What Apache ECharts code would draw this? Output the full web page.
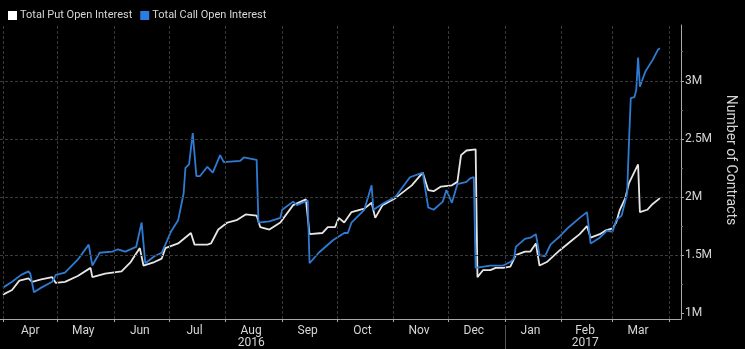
<!DOCTYPE html>
<html><head><meta charset="utf-8">
<script src="https://cdn.jsdelivr.net/npm/echarts@6/dist/echarts.min.js"></script>
<style>html,body{margin:0;padding:0;background:#000;}#c{width:745px;height:349px;}</style>
</head><body><div id="c"></div>
<script>
// ---- data (values in millions of contracts) ----
const putDates = ['2016-04-01','2016-04-06','2016-04-10','2016-04-15','2016-04-17','2016-04-22','2016-04-28','2016-04-30','2016-05-05','2016-05-12','2016-05-19','2016-05-20','2016-05-27','2016-06-05','2016-06-10','2016-06-15','2016-06-17','2016-06-23','2016-06-27','2016-06-29','2016-07-06','2016-07-13','2016-07-15','2016-07-22','2016-07-24','2016-07-28','2016-08-02','2016-08-07','2016-08-12','2016-08-18','2016-08-20','2016-08-25','2016-08-31','2016-09-07','2016-09-14','2016-09-16','2016-09-23','2016-09-26','2016-09-30','2016-10-02','2016-10-05','2016-10-09','2016-10-16','2016-10-20','2016-10-22','2016-10-26','2016-11-02','2016-11-11','2016-11-17','2016-11-20','2016-11-23','2016-11-27','2016-12-03','2016-12-06','2016-12-08','2016-12-11','2016-12-16','2016-12-17','2016-12-20','2016-12-24','2016-12-27','2016-12-31','2017-01-04','2017-01-07','2017-01-12','2017-01-15','2017-01-18','2017-01-20','2017-01-24','2017-01-31','2017-02-07','2017-02-11','2017-02-15','2017-02-17','2017-02-22','2017-02-25','2017-03-01','2017-03-03','2017-03-05','2017-03-08','2017-03-10','2017-03-15','2017-03-16','2017-03-20','2017-03-23','2017-03-27'];
const putValues = [1.16,1.20,1.28,1.30,1.27,1.29,1.31,1.26,1.27,1.32,1.39,1.31,1.34,1.36,1.44,1.56,1.41,1.44,1.47,1.56,1.60,1.69,1.59,1.59,1.60,1.72,1.78,1.80,1.85,1.84,1.74,1.72,1.78,1.93,1.98,1.68,1.69,1.74,1.74,1.82,1.78,1.87,1.90,1.95,1.82,1.93,1.99,2.10,2.21,2.06,2.05,2.09,2.10,2.13,2.36,2.40,2.41,1.31,1.37,1.37,1.39,1.39,1.40,1.50,1.53,1.53,1.60,1.41,1.44,1.54,1.63,1.68,1.75,1.65,1.68,1.71,1.73,1.78,1.89,1.99,2.12,2.28,1.87,1.89,1.94,1.99];
const callDates = ['2016-04-01','2016-04-06','2016-04-11','2016-04-15','2016-04-16','2016-04-18','2016-04-22','2016-04-28','2016-04-30','2016-05-05','2016-05-12','2016-05-18','2016-05-20','2016-05-24','2016-05-31','2016-06-03','2016-06-07','2016-06-13','2016-06-16','2016-06-18','2016-06-23','2016-06-27','2016-06-29','2016-07-02','2016-07-06','2016-07-09','2016-07-10','2016-07-12','2016-07-14','2016-07-16','2016-07-18','2016-07-22','2016-07-25','2016-07-29','2016-07-31','2016-08-09','2016-08-11','2016-08-18','2016-08-19','2016-08-25','2016-08-31','2016-09-01','2016-09-07','2016-09-09','2016-09-15','2016-09-16','2016-09-21','2016-09-29','2016-10-05','2016-10-07','2016-10-09','2016-10-16','2016-10-20','2016-10-21','2016-10-27','2016-11-02','2016-11-10','2016-11-17','2016-11-20','2016-11-23','2016-11-28','2016-11-30','2016-12-03','2016-12-06','2016-12-11','2016-12-13','2016-12-15','2016-12-16','2016-12-24','2016-12-31','2017-01-04','2017-01-06','2017-01-07','2017-01-12','2017-01-15','2017-01-18','2017-01-20','2017-01-23','2017-01-26','2017-01-31','2017-02-05','2017-02-11','2017-02-15','2017-02-17','2017-02-22','2017-02-26','2017-03-01','2017-03-03','2017-03-06','2017-03-09','2017-03-10','2017-03-11','2017-03-13','2017-03-14','2017-03-15','2017-03-16','2017-03-17','2017-03-19','2017-03-23','2017-03-26','2017-03-27'];
const callValues = [1.22,1.27,1.33,1.36,1.34,1.18,1.22,1.27,1.33,1.35,1.46,1.59,1.41,1.52,1.53,1.55,1.53,1.57,1.78,1.43,1.49,1.52,1.59,1.70,1.80,2.03,2.25,2.28,2.55,2.18,2.18,2.26,2.21,2.36,2.30,2.31,2.34,2.32,1.78,1.79,1.82,1.89,1.96,1.93,1.97,1.43,1.52,1.63,1.69,1.69,1.78,1.89,2.10,1.89,1.95,2.00,2.17,2.21,1.91,1.89,1.96,2.06,1.95,2.11,2.13,2.16,2.17,1.39,1.41,1.41,1.44,1.47,1.57,1.64,1.65,1.68,1.50,1.49,1.59,1.66,1.74,1.82,1.87,1.60,1.65,1.71,1.70,1.80,1.84,2.03,2.47,2.85,2.86,2.92,3.20,2.95,2.95,3.08,3.18,3.27,3.28];

const seriesNames = ['Total Put Open Interest','Total Call Open Interest'];
const monthTicks = ['2016-04-01','2016-05-01','2016-06-01','2016-07-01','2016-08-01','2016-09-01','2016-10-01','2016-11-01','2016-12-01','2017-01-01','2017-02-01','2017-03-01','2017-04-01'];
const monthLabelDates = ['2016-04-16','2016-05-15','2016-06-15','2016-07-15','2016-08-15','2016-09-15','2016-10-15','2016-11-15','2016-12-15','2017-01-15','2017-02-14','2017-03-15'];
const monthLabels = ['Apr','May','Jun','Jul','Aug','Sep','Oct','Nov','Dec','Jan','Feb','Mar'];
const yearLabelDates = ['2016-08-15','2017-02-14'];
const yearLabels = ['2016','2017'];
const yearDivider = ['2017-01-01'];
const yTicks = [1,1.5,2,2.5,3];
const yMinorTicks = [1.25,1.75,2.25,2.75,3.25];
const yGridLines = [1.5,2,2.5,3];
const originDate = '2016-04-01';
const xMinDays = -1.6, xMaxDays = 371.5;
const yMin = 0.95, yMax = 3.48;

// day number since originDate (the x axis is a plain value axis in days)
function day(s){
  const p = s.split('-').map(Number), o = originDate.split('-').map(Number);
  return Math.round((Date.UTC(p[0], p[1]-1, p[2]) - Date.UTC(o[0], o[1]-1, o[2])) / 86400000);
}
const pairs = (d, v) => d.map((x, i) => [day(x), v[i]]);

const putColor = '#e6e6e6', callColor = '#2f7bd3', axisColor = '#a8a8a8', textColor = '#d6d6d6', gridColor = '#3a3a3a';
const font = 'Roboto, "Liberation Sans", sans-serif';

const monthTickDays = monthTicks.map(day);
const monthLabelDays = monthLabelDates.map(day);
const yearLabelDays = yearLabelDates.map(day);

const chart = echarts.init(document.getElementById('c'), null, {renderer: 'canvas'});
const base = {type: 'value', min: xMinDays, max: xMaxDays, gridIndex: 0, position: 'bottom'};
chart.setOption({
  backgroundColor: '#000',
  animation: false,
  textStyle: {fontFamily: font},
  legend: {
    data: seriesNames.map(n => ({name: n, icon: 'rect'})),
    left: 3, top: 5, itemWidth: 9, itemHeight: 9, itemGap: 8,
    textStyle: {color: textColor, fontSize: 11, fontFamily: font, padding: [0, 0, 0, -2]}
  },
  grid: {left: 0, right: 56, top: 25, bottom: 30},
  xAxis: [
    Object.assign({}, base, {
      axisLine: {show: true, onZero: false, lineStyle: {color: axisColor, width: 1}},
      axisTick: {show: true, customValues: monthTickDays, length: 3, lineStyle: {color: axisColor}},
      axisLabel: {show: false}, splitLine: {show: false}
    }),
    Object.assign({}, base, {
      axisLine: {show: false, onZero: false}, axisTick: {show: false}, splitLine: {show: false},
      axisLabel: {show: true, customValues: monthLabelDays, color: textColor, fontSize: 12, margin: 6,
        formatter: v => monthLabels[monthLabelDays.indexOf(v)] || ''}
    }),
    Object.assign({}, base, {
      offset: 6,
      axisLine: {show: false, onZero: false}, splitLine: {show: false},
      axisTick: {show: true, customValues: yearDivider.map(day), length: 24, lineStyle: {color: '#555'}},
      axisLabel: {show: true, customValues: yearLabelDays, color: textColor, fontSize: 12, margin: 12,
        formatter: v => yearLabels[yearLabelDays.indexOf(v)] || ''}
    })
  ],
  yAxis: [
    {
      type: 'value', position: 'right', min: yMin, max: yMax,
      axisLine: {show: true, onZero: false, lineStyle: {color: axisColor, width: 1}},
      axisTick: {show: true, customValues: yTicks, length: 3, lineStyle: {color: axisColor}},
      axisLabel: {show: true, customValues: yTicks, color: textColor, fontSize: 12, margin: 4, formatter: v => v + 'M'},
      splitLine: {show: false},
      name: 'Number of Contracts', nameLocation: 'middle', nameRotate: -90, nameGap: 32,
      nameTextStyle: {color: textColor, fontSize: 14, fontFamily: font, padding: [0, 24, 0, 0]}
    },
    {
      type: 'value', position: 'right', min: yMin, max: yMax,
      axisLine: {show: false, onZero: false},
      axisTick: {show: true, customValues: yMinorTicks, length: 2, lineStyle: {color: '#777'}},
      axisLabel: {show: false}, splitLine: {show: false}
    }
  ],
  series: [
    {
      type: 'line', name: '_grid', data: [[0, yMin]], z: 1, silent: true,
      symbol: 'none', showSymbol: false, lineStyle: {opacity: 0}, tooltip: {show: false},
      markLine: {
        silent: true, symbol: ['none', 'none'], animation: false, label: {show: false},
        emphasis: {disabled: true},
        lineStyle: {color: gridColor, type: [3, 2], width: 1},
        data: yGridLines.map(v => ({yAxis: v})).concat(monthTickDays.map(d => ({xAxis: d})))
      }
    },
    {type: 'line', name: seriesNames[0], data: pairs(putDates, putValues), showSymbol: false, symbol: 'none',
      lineStyle: {color: putColor, width: 1.8}, itemStyle: {color: '#ffffff'}, z: 3},
    {type: 'line', name: seriesNames[1], data: pairs(callDates, callValues), showSymbol: false, symbol: 'none',
      lineStyle: {color: callColor, width: 1.8}, itemStyle: {color: '#2a7de1'}, z: 4}
  ]
});
</script></body></html>
